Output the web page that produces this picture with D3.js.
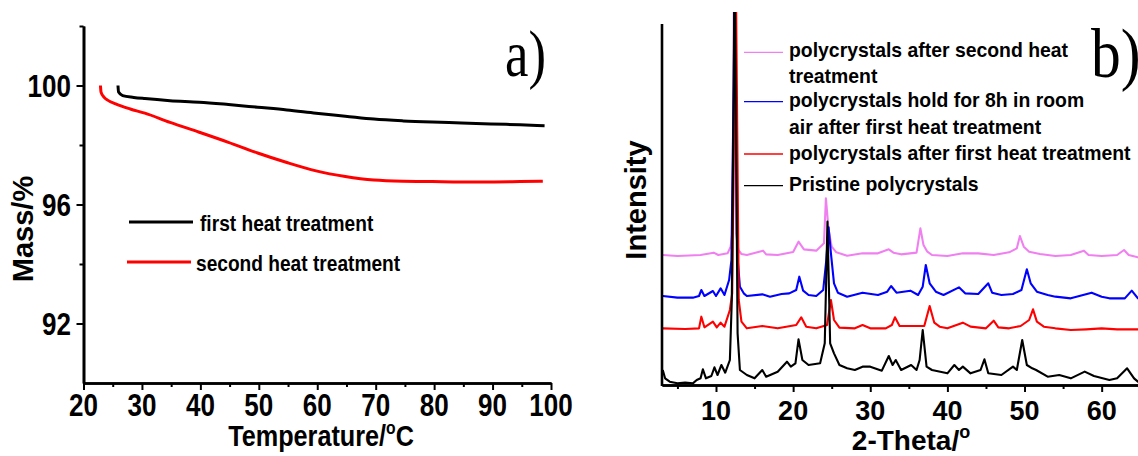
<!DOCTYPE html>
<html><head><meta charset="utf-8">
<script src="https://cdn.jsdelivr.net/npm/d3@7"></script>
<style>html,body{margin:0;padding:0;background:#fff;overflow:hidden}</style>
</head><body>
<svg id="c" width="1138" height="456" xmlns="http://www.w3.org/2000/svg"></svg>
<script>
// ---------------- DATA ----------------
// Panel a: TGA, temperature (°C) vs mass (%)
const tgaFirstT    = [25.9, 26.0, 26.7, 28.6, 30.5, 34.8, 39.8, 44.8, 49.8, 54.8, 59.8, 64.8, 69.7, 74.7, 79.7, 84.7, 89.7, 94.7, 98.9];
const tgaFirstMass = [100.0, 99.78, 99.66, 99.60, 99.56, 99.49, 99.44, 99.36, 99.27, 99.18, 99.07, 98.97, 98.87, 98.81, 98.77, 98.74, 98.71, 98.68, 98.65];
const tgaSecondT    = [22.9, 23.0, 23.5, 24.2, 25.5, 28.0, 30.5, 34.8, 39.8, 44.8, 49.8, 54.8, 59.8, 64.8, 69.7, 74.7, 79.7, 84.7, 89.7, 94.7, 98.6];
const tgaSecondMass = [100.0, 99.78, 99.61, 99.50, 99.38, 99.21, 99.07, 98.76, 98.43, 98.09, 97.73, 97.41, 97.13, 96.94, 96.82, 96.78, 96.77, 96.76, 96.76, 96.77, 96.78];
const tgaLegend = ["first heat treatment", "second heat treatment"];
const tgaXTicks = [20, 30, 40, 50, 60, 70, 80, 90, 100];
const tgaXMinor = [25, 35, 45, 55, 65, 75, 85, 95];
const tgaYTicks = [92, 96, 100];
const tgaYMinor = [94, 98, 102];

// Panel b: XRD, 2-theta (deg) vs intensity (a.u., stacked as plotted)
const xrdSecondHeat = [[3.1,390],[5,387],[8,390],[9.7,397],[10.3,390],[11.5,395],[11.9,415],[12.1,455],[12.25,900],[12.35,1300],[12.45,900],[12.6,455],[12.9,405],[13.3,393],[14,390],[16.1,403],[16.5,392],[18,390],[20,399],[20.7,430],[21.4,407],[23,403],[24.0,425],[24.25,560],[24.6,465],[25.0,415],[25.6,398],[27,388],[29,395],[31,395],[32.4,407],[33,397],[34,392],[36,397],[36.5,470],[36.9,420],[37.4,400],[38,390],[40,387],[42,395],[44,395],[46,390],[48,398],[49.0,410],[49.4,447],[49.9,415],[50.6,400],[52,393],[54,387],[56,390],[57.7,403],[58.3,390],[60,387],[62,390],[62.9,405],[63.5,390],[64.7,383],[66,385]];
const xrdHold8h = [[3.1,267],[5,262],[7,262],[7.8,267],[8.1,285],[8.5,267],[9.6,282],[10.0,267],[10.6,290],[11.1,270],[11.7,315],[12.0,375],[12.3,900],[12.45,1300],[12.6,900],[12.75,395],[13.1,295],[13.6,275],[14,267],[16,272],[17,265],[18.5,273],[19.5,275],[20.4,285],[20.8,325],[21.3,283],[22,270],[23,267],[23.9,285],[24.3,375],[24.6,473],[24.9,395],[25.3,305],[25.8,277],[27,265],[29,277],[31,270],[32.2,280],[32.7,297],[33.4,277],[35.2,283],[36.2,270],[36.8,295],[37.2,360],[37.7,305],[38.5,280],[39.5,270],[41.5,293],[42.3,275],[44,273],[45.3,305],[45.8,277],[47,270],[48.5,273],[49.6,285],[50.3,347],[50.8,305],[51.6,280],[53,270],[54,265],[56,260],[58.7,277],[60,265],[61,260],[63,260],[63.9,283],[64.7,260],[66,260]];
const xrdFirstHeat = [[3.1,170],[6,168],[7.8,170],[8.1,205],[8.5,173],[9.6,190],[10.1,173],[10.6,187],[11.1,175],[11.8,225],[12.1,275],[12.4,900],[12.55,1300],[12.7,900],[12.95,255],[13.3,190],[14,170],[16,177],[18,170],[20.4,180],[21.05,203],[21.7,175],[23,170],[24.4,180],[24.9,255],[25.3,195],[26,172],[28,170],[29,180],[30,170],[32,170],[32.8,180],[33.2,203],[33.8,177],[35.5,177],[37.0,177],[37.7,237],[38.3,187],[39,175],[40,170],[42,187],[43,175],[45,170],[46,193],[46.6,173],[48,170],[49.5,177],[50.6,195],[51.1,227],[51.6,190],[52.5,175],[54,170],[56,165],[58,167],[60,170],[62,167],[64.7,167],[66,167]];
const xrdPristine = [[3.1,45],[3.4,20],[4,10],[5,5],[6,7],[7,5],[7.5,15],[8.0,20],[8.3,47],[8.7,20],[9.4,27],[9.8,53],[10.2,30],[10.7,60],[11.2,37],[11.8,75],[12.05,255],[12.3,900],[12.4,1300],[12.55,900],[12.8,155],[13.1,45],[14,30],[15,20],[16.0,45],[16.5,25],[18,40],[19.2,70],[19.7,55],[20.3,65],[20.7,137],[21.2,75],[22,60],[23.5,65],[24.1,125],[24.45,490],[24.8,125],[25.3,95],[26,60],[27,50],[28,45],[29,55],[30,55],[31.5,43],[32.4,87],[32.9,60],[33.3,75],[34,45],[35.3,60],[36,45],[36.4,75],[36.8,165],[37.3,55],[38,45],[40,35],[40.9,60],[41.5,45],[42.0,55],[43,35],[44.3,45],[44.8,77],[45.3,35],[47,30],[48.5,55],[49.0,45],[49.7,135],[50.3,60],[51,50],[51.5,45],[53,25],[54.5,30],[56,20],[57.8,40],[59,27],[61,15],[62,20],[63.3,50],[64.2,20],[64.7,10],[66,10]];
const xrdLegend = [["polycrystals after second heat", "treatment"], ["polycrystals hold for 8h in room", "air after first heat treatment"], ["polycrystals after first heat treatment"], ["Pristine polycrystals"]];
const xrdXTicks = [10, 20, 30, 40, 50, 60];
const xrdXMinor = [5, 15, 25, 35, 45, 55, 65];

// ---------------- DRAW ----------------
const svg = d3.select("#c");
const SANS = "'Liberation Sans', Arial, Helvetica, sans-serif";
const SERIF = "'Liberation Serif', 'Times New Roman', serif";

function label(g, txt, x, y, size, sx, anchor, rot) {
  const t = g.append("text")
    .attr("transform", `translate(${x},${y})` + (rot ? ` rotate(${rot})` : "") + ` scale(${sx},1)`)
    .attr("font-family", SANS).attr("font-weight", "bold")
    .attr("font-size", size).attr("text-anchor", anchor || "start")
    .attr("fill", "#000");
  if (txt !== null) t.text(txt);
  return t;
}

// ===== Panel a =====
const xa = d3.scaleLinear([20, 100], [83.5, 551]);
const ya = d3.scaleLinear([90, 102], [383, 26]);
const ga = svg.append("g");

function styleAxis(sel, w) {
  sel.selectAll("path.domain").attr("stroke", "#000").attr("stroke-width", w);
  sel.selectAll(".tick line").attr("stroke", "#000").attr("stroke-width", 2);
  sel.selectAll(".tick text").remove();
}
ga.append("g").attr("transform", "translate(0,383)")
  .call(d3.axisBottom(xa).tickValues(tgaXMinor).tickSize(4).tickSizeOuter(0).tickFormat(""))
  .call(s => styleAxis(s, 2.6));
ga.append("g").attr("transform", "translate(0,383)")
  .call(d3.axisBottom(xa).tickValues(tgaXTicks).tickSize(7).tickSizeOuter(0).tickFormat(""))
  .call(s => styleAxis(s, 2.6));
ga.append("g").attr("transform", "translate(83.5,0)")
  .call(d3.axisLeft(ya).tickValues(tgaYMinor).tickSize(4).tickSizeOuter(0).tickFormat(""))
  .call(s => styleAxis(s, 2.6));
ga.append("g").attr("transform", "translate(83.5,0)")
  .call(d3.axisLeft(ya).tickValues(tgaYTicks).tickSize(7).tickSizeOuter(0).tickFormat(""))
  .call(s => styleAxis(s, 2.6));

tgaXTicks.forEach(v => label(ga, String(v), xa(v), 416, 31, 0.84, "middle"));
tgaYTicks.forEach(v => label(ga, String(v), 71, ya(v) + 11, 31, 0.84, "end"));

// axis titles
const tt = label(ga, null, 321, 446, 29, 0.87, "middle");
tt.append("tspan").text("Temperature/");
tt.append("tspan").attr("font-size", 18).attr("dy", -12).text("o");
tt.append("tspan").attr("dy", 12).text("C");
label(ga, "Mass/%", 33, 229, 29, 1, "middle", -90);

// curves
const lineA = d3.line().x(d => xa(d[0])).y(d => ya(d[1])).curve(d3.curveMonotoneX);
const first = tgaFirstT.map((t, i) => [t, tgaFirstMass[i]]);
const second = tgaSecondT.map((t, i) => [t, tgaSecondMass[i]]);
ga.append("path").datum(first).attr("d", lineA)
  .attr("fill", "none").attr("stroke", "#000").attr("stroke-width", 3);
ga.append("path").datum(second).attr("d", lineA)
  .attr("fill", "none").attr("stroke", "#ff0000").attr("stroke-width", 3);

// legend a
ga.append("line").attr("x1", 129).attr("x2", 193).attr("y1", 222).attr("y2", 222).attr("stroke", "#000").attr("stroke-width", 3);
label(ga, tgaLegend[0], 200, 231, 22, 0.87, "start");
ga.append("line").attr("x1", 127).attr("x2", 191).attr("y1", 262).attr("y2", 262).attr("stroke", "#ff0000").attr("stroke-width", 3);
label(ga, tgaLegend[1], 196, 271, 22, 0.87, "start");

ga.append("text").attr("transform", "translate(505,76) scale(0.8,1)")
  .attr("font-family", SERIF).attr("font-size", 66).attr("fill", "#000").text("a)");

// ===== Panel b =====
const xb = d3.scaleLinear([3, 70], [662, 1178.8]);
const yb = d3.scaleLinear([0, 1083], [385, 24]);
const gb = svg.append("g");

svg.append("defs").append("clipPath").attr("id", "clipb")
  .append("rect").attr("x", 662).attr("y", 12).attr("width", 600).attr("height", 373);

const lineB = d3.line().x(d => xb(d[0])).y(d => yb(d[1]));
const series = [
  [xrdSecondHeat, "#f080f0"],
  [xrdHold8h, "#0000ff"],
  [xrdFirstHeat, "#ff0000"],
  [xrdPristine, "#000000"]
];
const gc = gb.append("g").attr("clip-path", "url(#clipb)");
series.forEach(([d, c]) => {
  gc.append("path").datum(d).attr("d", lineB)
    .attr("fill", "none").attr("stroke", c).attr("stroke-width", 2.1).attr("stroke-linejoin", "round");
});

gb.append("g").attr("transform", "translate(0,385)")
  .call(d3.axisBottom(xb).tickValues(xrdXMinor).tickSize(4).tickSizeOuter(0).tickFormat(""))
  .call(s => styleAxis(s, 2.6));
gb.append("g").attr("transform", "translate(0,385)")
  .call(d3.axisBottom(xb).tickValues(xrdXTicks).tickSize(7).tickSizeOuter(0).tickFormat(""))
  .call(s => styleAxis(s, 2.6));
gb.append("line").attr("x1", 662).attr("x2", 662).attr("y1", 24).attr("y2", 386)
  .attr("stroke", "#000").attr("stroke-width", 2.6);

xrdXTicks.forEach(v => label(gb, String(v), xb(v), 420, 27, 1, "middle"));

const bt = label(gb, null, 911, 450, 28, 1, "middle");
bt.append("tspan").text("2-Theta/");
bt.append("tspan").attr("font-size", 18).attr("dy", -12).text("o");
label(gb, "Intensity", 646, 200, 29, 1, "middle", -90);

// legend b
const legY = [52.3, 101.7, 154, 185.7];
const legBase = [56.7, 107.3, 160, 190.7];
series.forEach(([d, c], i) => {
  gb.append("line").attr("x1", 744).attr("x2", 783).attr("y1", legY[i]).attr("y2", legY[i])
    .attr("stroke", c).attr("stroke-width", 1.3);
  xrdLegend[i].forEach((s, j) => label(gb, s, 789, legBase[i] + j * 26.6, 20, 0.97, "start"));
});

gb.append("text").attr("transform", "translate(1091,77) scale(0.85,1)")
  .attr("font-family", SERIF).attr("font-size", 70).attr("fill", "#000").text("b)");
</script>
</body></html>
